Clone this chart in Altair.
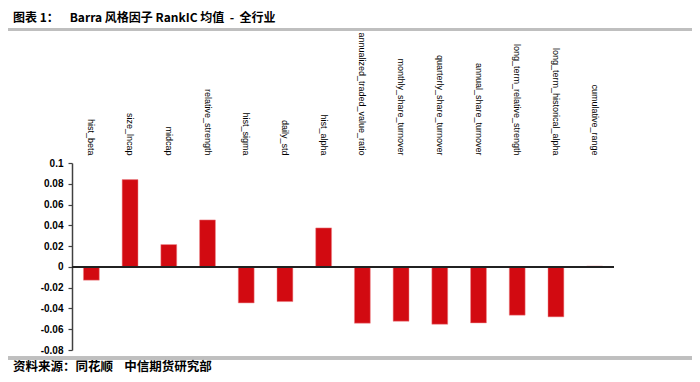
import altair as alt
import pandas as pd

factors = ["hist_beta", "size_lncap", "midcap", "relative_strength", "hist_sigma",
           "daily_std", "hist_alpha", "annualized_traded_value_ratio",
           "monthly_share_turnover", "quarterly_share_turnover", "annual_share_turnover",
           "long_term_relative_strength", "long_term_historical_alpha", "cumulative_range"]
rank_ic = [-0.0128, 0.0840, 0.0215, 0.0452, -0.0347, -0.0334, 0.0375, -0.0542,
           -0.0523, -0.0552, -0.0539, -0.0465, -0.0481, 0.0008]
y_ticks = [-0.08, -0.06, -0.04, -0.02, 0, 0.02, 0.04, 0.06, 0.08, 0.1]
title_text = "图表 1：\u00a0\u00a0\u00a0\u00a0Barra 风格因子 RankIC 均值\u00a0 -\u00a0 全行业"
source_text = "资料来源：同花顺\u00a0\u00a0\u00a0\u00a0中信期货研究部"

df = pd.DataFrame({"factor": factors, "ic": rank_ic})

W, H = 542, 187
BAR_RED = "#D20A11"

bars = alt.Chart(df).mark_bar(color=BAR_RED, stroke="#EE8A8E", strokeWidth=0.5).encode(
    x=alt.X("factor:N", sort=None,
            scale=alt.Scale(paddingInner=0.59, paddingOuter=0.295),
            axis=alt.Axis(orient="top", title=None, labelAngle=90, labelAlign="right",
                          labelBaseline="middle", domain=False, ticks=False,
                          labelPadding=8, labelFont="Liberation Sans", labelFontSize=9,
                          labelColor="#000000", labelLimit=300)),
    y=alt.Y("ic:Q", scale=alt.Scale(domain=[-0.08, 0.1], nice=False, zero=False),
            axis=alt.Axis(title=None, values=y_ticks, tickCount=20, grid=False,
                          labelOverlap=False,
                          labelExpr="'' + datum.value", labelFont="Liberation Sans",
                          labelFontSize=10, labelColor="#000000", labelFontWeight="bold",
                          domainColor="#404040", domainWidth=1.5, tickColor="#404040",
                          tickSize=4, tickWidth=1.2, labelPadding=5)),
)

zero_line = alt.Chart(df).mark_rule(color="#222222", strokeWidth=1.5).encode(
    y=alt.datum(0), x=alt.value(0), x2=alt.value(W)
)

title = alt.Chart(pd.DataFrame({"t": [title_text]})).mark_text(
    align="left", baseline="middle", font="Noto Sans CJK SC", fontSize=12,
    fontWeight="bold", color="#000000"
).encode(x=alt.value(-59), y=alt.value(-145), text="t:N")

top_bar = alt.Chart(df).mark_rule(color="#BFBFBF", strokeWidth=3).encode(
    x=alt.value(-64), x2=alt.value(620), y=alt.value(-133.5)
)

bottom_bar = alt.Chart(df).mark_rule(color="#BFBFBF", strokeWidth=3).encode(
    x=alt.value(-64), x2=alt.value(620), y=alt.value(195)
)

source = alt.Chart(pd.DataFrame({"t": [source_text]})).mark_text(
    align="left", baseline="middle", font="Noto Sans CJK SC", fontSize=12.5,
    fontWeight="bold", color="#000000"
).encode(x=alt.value(-59), y=alt.value(204), text="t:N")

chart = alt.layer(bars, zero_line, title, top_bar, bottom_bar, source).properties(
    width=W, height=H,
    padding={"left": 64, "top": 155, "right": 78, "bottom": 24},
    autosize=alt.AutoSizeParams(type="none"),
    background="white",
).configure_view(stroke=None)

chart.save("out.html", embed_options={"renderer": "svg", "actions": False})
